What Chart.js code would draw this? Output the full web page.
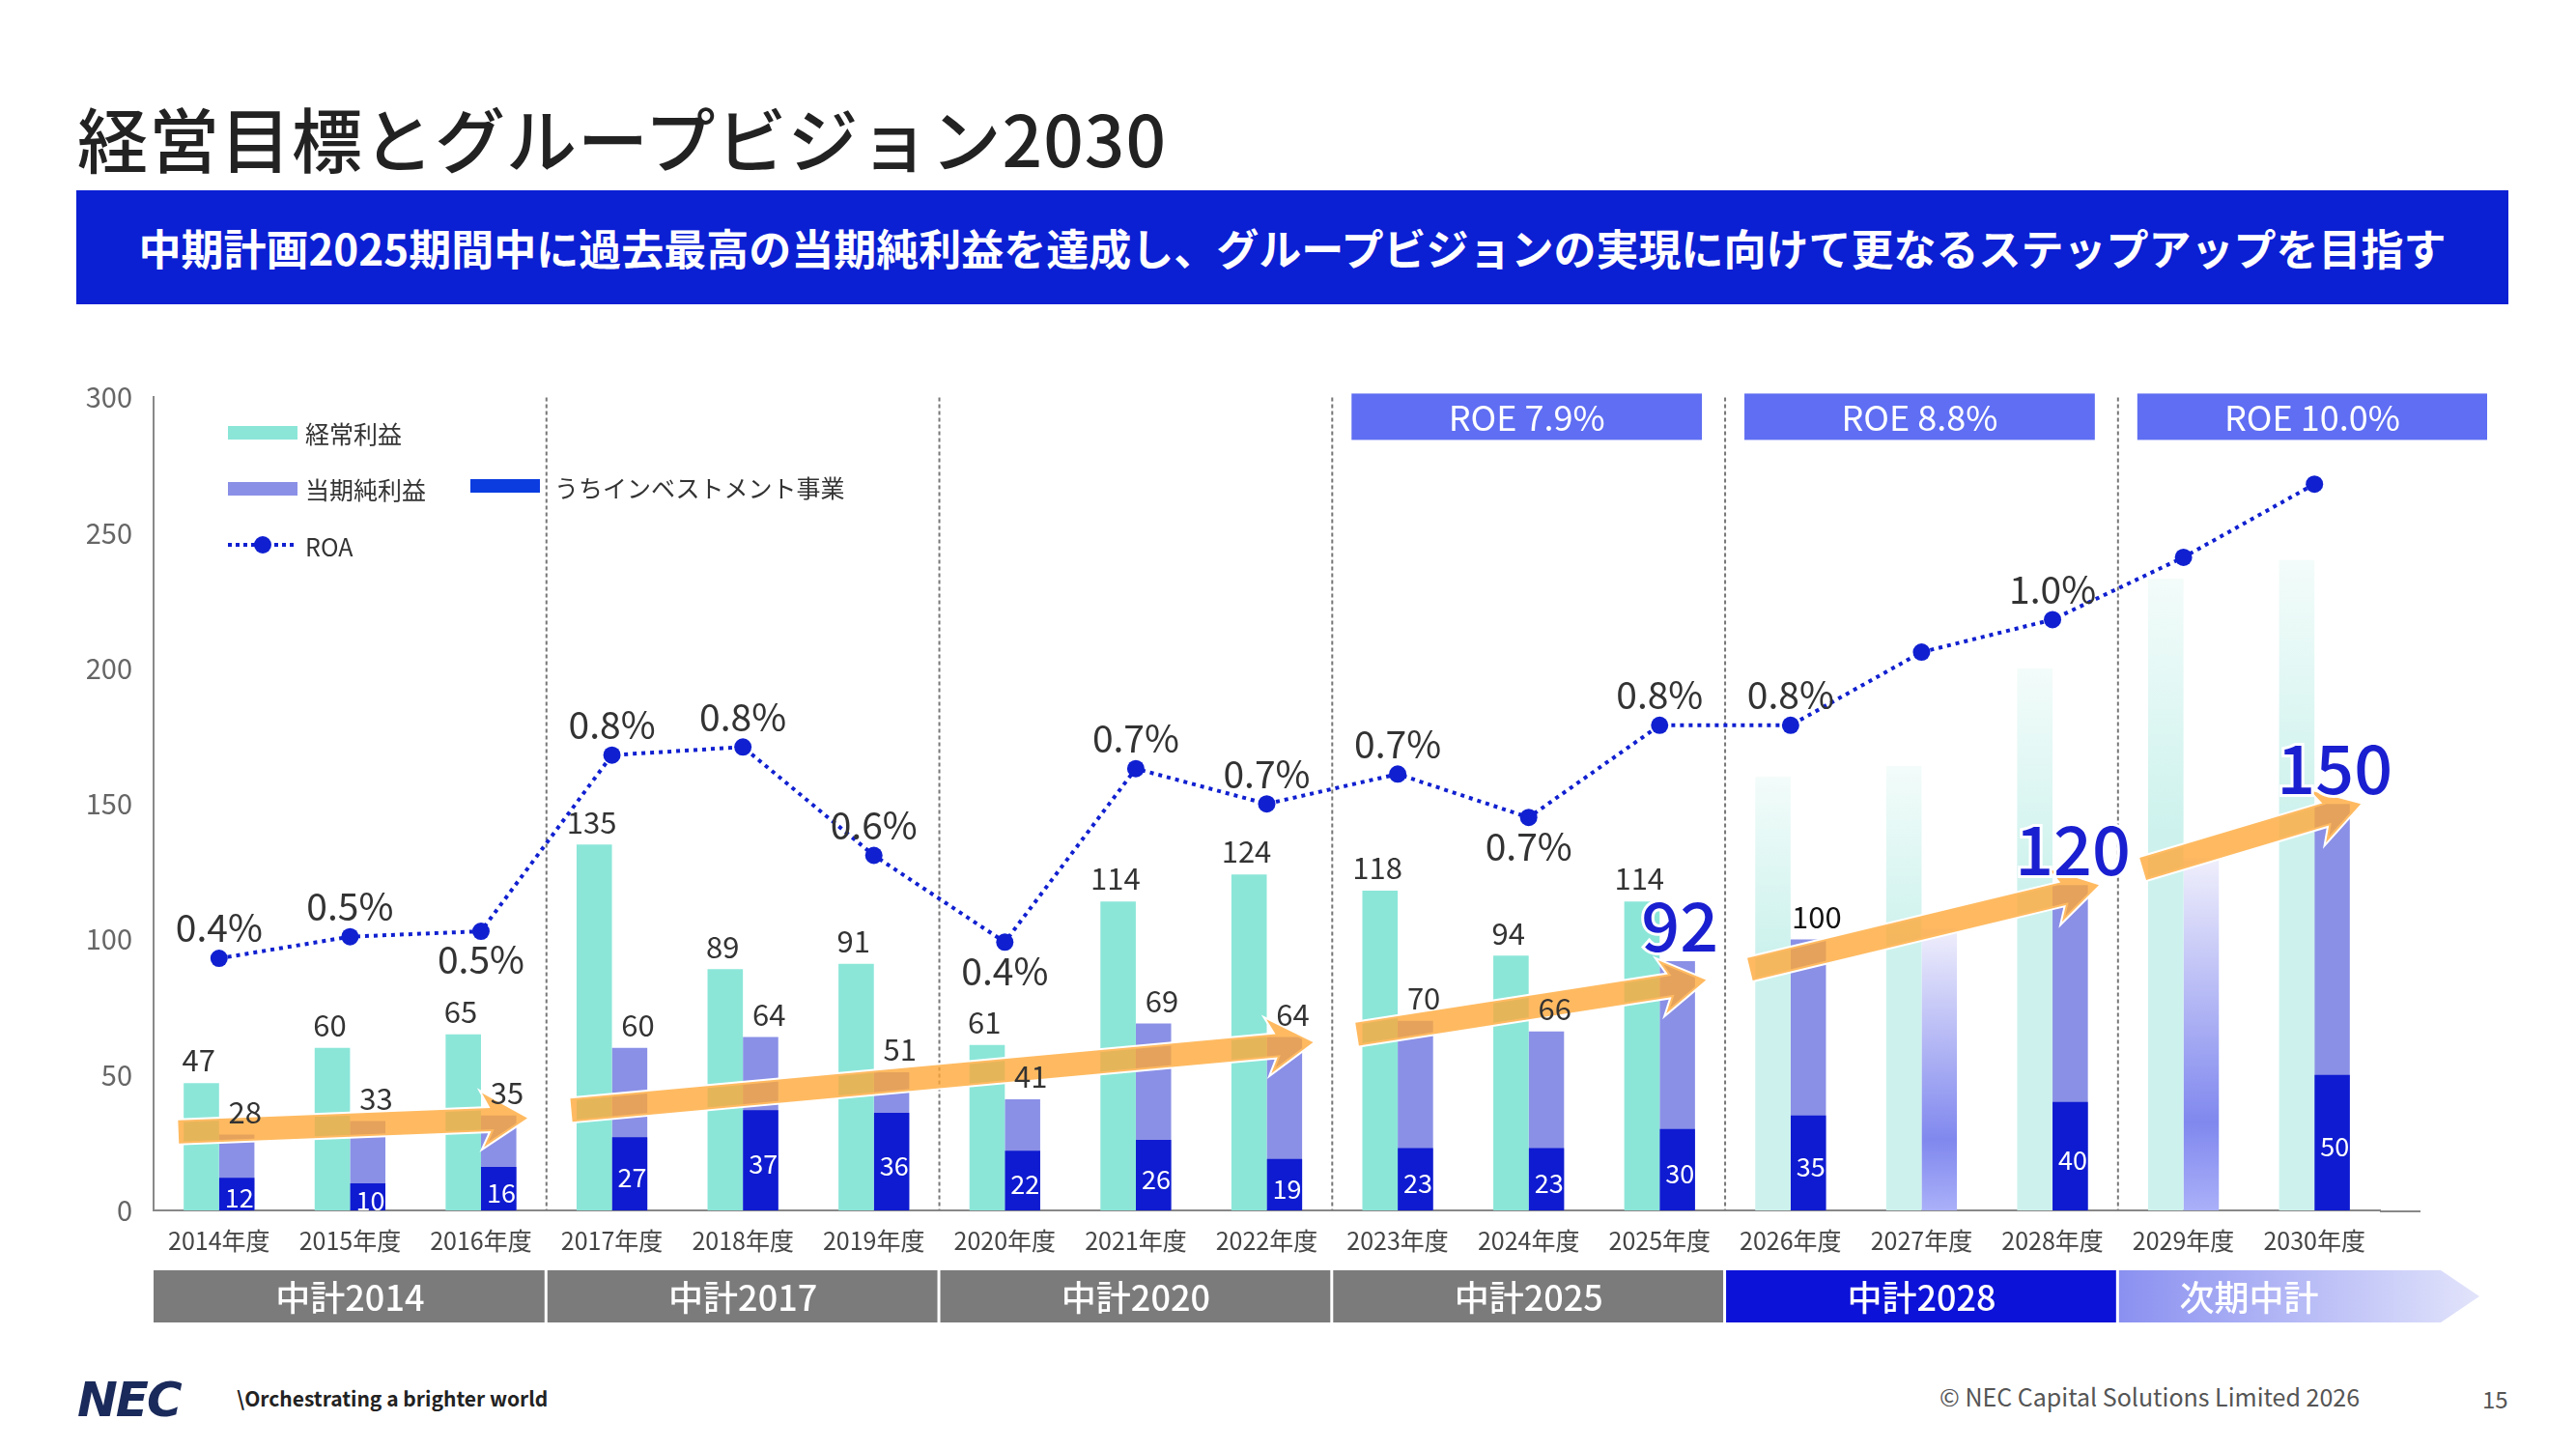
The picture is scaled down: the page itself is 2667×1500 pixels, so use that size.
<!DOCTYPE html>
<html><head><meta charset="utf-8">
<script src="https://cdn.jsdelivr.net/npm/chart.js@4"></script>
<style>
body{margin:0;width:2667px;height:1500px;background:#fff;position:relative;overflow:hidden;font-family:"Noto Sans CJK JP","Noto Sans",sans-serif;}
.abs{position:absolute;white-space:nowrap;}
#title{left:80px;top:88px;font-size:73px;color:#222;font-weight:500;letter-spacing:1px;}
#banner{left:79px;top:197px;width:2518px;height:118px;background:#0b1fd3;color:#fff;font-size:44px;font-weight:700;display:flex;align-items:center;justify-content:center;}
#wrap{left:60px;top:380px;width:2600px;height:1010px;}
.sw{position:absolute;height:14px;width:72px;}
.lt{font-size:25px;color:#333;}
</style></head><body>
<div id="title" class="abs">経営目標とグループビジョン2030</div>
<div id="banner" class="abs">中期計画2025期間中に過去最高の当期純利益を達成し、グループビジョンの実現に向けて更なるステップアップを目指す</div>
<div class="abs" id="wrap"><canvas id="c" width="2600" height="1010"></canvas></div>
<div class="sw abs" style="left:236px;top:441px;background:#8be6d8"></div>
<div class="abs lt" style="left:316px;top:430px">経常利益</div>
<div class="sw abs" style="left:236px;top:499px;background:#8a90e6"></div>
<div class="abs lt" style="left:316px;top:488px">当期純利益</div>
<div class="sw abs" style="left:487px;top:496px;background:#0a3ce0"></div>
<div class="abs lt" style="left:574px;top:486px">うちインベストメント事業</div>
<svg class="abs" style="left:234px;top:552px" width="76" height="24"><line x1="2" y1="12" x2="74" y2="12" stroke="#1020d0" stroke-width="4" stroke-dasharray="4 4"/><circle cx="38" cy="12" r="9" fill="#1020d0"/></svg>
<div class="abs lt" style="left:316px;top:547px">ROA</div>
<div class="abs" style="left:80px;top:1420px;font-size:50px;font-weight:900;color:#1a2a5a;font-family:'DejaVu Sans';letter-spacing:-2px;font-style:italic;">NEC</div>
<div class="abs" style="left:245px;top:1432px;font-size:21px;color:#222;font-weight:700;">\Orchestrating a brighter world</div>
<div class="abs" style="left:2008px;top:1427px;font-size:25px;color:#555;">© NEC Capital Solutions Limited 2026</div>
<div class="abs" style="left:2570px;top:1430px;font-size:24px;color:#555;">15</div>
<script>
const categories=['2014年度','2015年度','2016年度','2017年度','2018年度','2019年度','2020年度','2021年度','2022年度','2023年度','2024年度','2025年度','2026年度','2027年度','2028年度','2029年度','2030年度'];
const ordinaryProfit=[47,60,65,135,89,91,61,114,124,118,94,114,160,164,200,233,240];
const netProfit=[28,33,35,60,64,51,41,69,64,70,66,92,100,104,120,130,150];
const investProfit=[12,10,16,27,37,36,22,26,19,23,23,30,35,null,40,null,50];
const roaPlot=[93,101,103,168,171,131,99,163,150,161,145,179,179,206,218,241,268];
const roaLabels=['0.4%','0.5%','0.5%','0.8%','0.8%','0.6%','0.4%','0.7%','0.7%','0.7%','0.7%','0.8%','0.8%','','1.0%','',''];
const roaBelow=[false,false,true,false,false,false,true,false,false,false,true,false,false,false,false,false,false];
const ordinaryLabels=['47','60','65','135','89','91','61','114','124','118','94','114','','','','',''];
const netLabels=['28','33','35','60','64','51','41','69','64','70','66','92','100','','120','','150'];
const highlightNet=[11,14,16];
const planOrdinary=[12,13,14,15,16];
const fadedNet=[13,15];
const phases=['中計2014','中計2017','中計2020','中計2025','中計2028','次期中計'];
const phaseStarts=[0,3,6,9,12,15];
const roeLabels=['ROE 7.9%','ROE 8.8%','ROE 10.0%'];
const roeStarts=[9,12,15];
const arrows=[[0,2,29,34],[3,8,37,62],[9,11,65,85],[12,14,89,120],[15,16,126,150]];

const BW=42;
function greenColor(ctx){
  const i=ctx.dataIndex; if(!planOrdinary.includes(i)) return '#8be6d8';
  const c=ctx.chart, a=c.chartArea; if(!a) return '#d0f2ee';
  const yt=c.scales.y.getPixelForValue(ordinaryProfit[i]);
  const g=c.ctx.createLinearGradient(0,yt,0,a.bottom);
  g.addColorStop(0,'#f3fcfa');g.addColorStop(0.4,'#cdf2ed');g.addColorStop(1,'#cdf2ed');return g;
}
function netColor(ctx){
  const i=ctx.dataIndex; if(!fadedNet.includes(i)) return '#8a90e6';
  const c=ctx.chart, a=c.chartArea; if(!a) return '#b0b4f4';
  const yt=c.scales.y.getPixelForValue(netProfit[i]);
  const g=c.ctx.createLinearGradient(0,yt,0,a.bottom);
  g.addColorStop(0,'#f0effc');g.addColorStop(0.75,'#8088ee');g.addColorStop(1,'#aab0f8');return g;
}
const deco={id:'deco',
 beforeDatasetsDraw(c){
  const x=c.scales.x,a=c.chartArea,g=c.ctx;
  const step=x.getPixelForValue(1)-x.getPixelForValue(0);
  g.save();g.strokeStyle='#777';g.lineWidth=2;g.setLineDash([4,3]);
  for(let k=1;k<phaseStarts.length;k++){const dx=x.getPixelForValue(phaseStarts[k])-step/2;
   g.beginPath();g.moveTo(dx,a.top);g.lineTo(dx,a.bottom);g.stroke();}
  g.setLineDash([]);g.strokeStyle='#888';g.lineWidth=2;g.beginPath();g.moveTo(a.right,a.bottom+1);g.lineTo(a.right+42,a.bottom+1);g.stroke();
  g.restore();
 },
 afterDatasetsDraw(c){
  const x=c.scales.x,y=c.scales.y,a=c.chartArea,g=c.ctx;
  const step=x.getPixelForValue(1)-x.getPixelForValue(0);
  const bnd=i=>x.getPixelForValue(i)-step/2;
  for(const [i0,i1,v0,v1] of arrows){
   const x0=x.getPixelForValue(i0)-BW,x1=x.getPixelForValue(i1)+BW+6;
   const y0=y.getPixelForValue(v0),y1=y.getPixelForValue(v1);
   const ang=Math.atan2(y1-y0,x1-x0),L=Math.hypot(x1-x0,y1-y0);
   g.save();g.translate(x0,y0);g.rotate(ang);
   const w=12,hl=38,hw=28;
   g.beginPath();g.moveTo(0,-w);g.lineTo(L-hl,-w);g.lineTo(L-hl-8,-hw);g.lineTo(L,0);g.lineTo(L-hl-8,hw);g.lineTo(L-hl,w);g.lineTo(0,w);g.closePath();
   g.fillStyle='rgba(255,166,52,0.78)';g.strokeStyle='#fff';g.lineWidth=4;g.stroke();g.fill();g.restore();
  }
  g.save();g.textAlign='center';g.textBaseline='bottom';
  const f=(s,w)=>`${w||400} ${s}px "Noto Sans CJK JP","Noto Sans",sans-serif`;
  g.fillStyle='#333';g.font=f(31);
  ordinaryLabels.forEach((t,i)=>{if(t)g.fillText(t,x.getPixelForValue(i)-BW/2,y.getPixelForValue(ordinaryProfit[i])-8);});
  netLabels.forEach((t,i)=>{if(!t)return;
   if(highlightNet.includes(i)){g.fillStyle='#1a1fd0';g.font=f(70,500);g.strokeStyle='#fff';g.lineWidth=6;
     const px=x.getPixelForValue(i)+BW/2,py=y.getPixelForValue(netProfit[i])-2;g.strokeText(t,px,py);g.fillText(t,px,py);}
   else{g.fillStyle=i==12?'#111':'#333';g.font=f(31);g.fillText(t,x.getPixelForValue(i)+BW/2+6,y.getPixelForValue(netProfit[i])-8);}
  });
  g.fillStyle='#fff';g.font=f(27);g.textBaseline='middle';
  investProfit.forEach((v,i)=>{if(v==null)return;g.fillText(String(v),x.getPixelForValue(i)+BW/2,(y.getPixelForValue(v)+a.bottom)/2+4);});
  g.fillStyle='#333';g.font=f(39);
  roaLabels.forEach((t,i)=>{if(!t)return;const py=y.getPixelForValue(roaPlot[i]);
   if(roaBelow[i]){g.textBaseline='top';g.fillText(t,x.getPixelForValue(i),py+10);}else{g.textBaseline='bottom';g.fillText(t,x.getPixelForValue(i),py-12);}});
  g.textBaseline='middle';
  roeStarts.forEach((s,k)=>{const l=bnd(s)+20,r=k<2?bnd(roeStarts[k+1])-24:a.right+111;
   g.fillStyle='#5f6ef2';g.fillRect(l,a.top-4,r-l,48);g.fillStyle='#fff';g.font=f(36);g.fillText(roeLabels[k],(l+r)/2,a.top+21);});
  const pt=a.bottom+62,ph=54;
  phaseStarts.forEach((s,k)=>{const l=k==0?a.left:bnd(s),r=k<5?bnd(phaseStarts[k+1]):a.right+63;
   if(k<4){g.fillStyle='#7b7b7b';g.fillRect(l,pt,r-l,ph);}
   else if(k==4){g.fillStyle='#0d12d8';g.fillRect(l,pt,r-l,ph);}
   else{const gr=g.createLinearGradient(l,0,r+40,0);gr.addColorStop(0,'#8a90f0');gr.addColorStop(1,'#e2e4fb');g.fillStyle=gr;
     g.beginPath();g.moveTo(l,pt);g.lineTo(r,pt);g.lineTo(r+40,pt+ph/2);g.lineTo(r,pt+ph);g.lineTo(l,pt+ph);g.closePath();g.fill();}
   g.fillStyle='#fff';g.font=f(36,500);g.fillText(phases[k],(l+(k<5?r:a.right))/2,pt+ph/2+1);
   if(k>0){g.fillStyle='#fff';g.fillRect(l-2,pt,3,ph);}
  });
  g.restore();
 }};
new Chart(document.getElementById('c'),{
 data:{labels:categories,datasets:[
  {type:'line',data:roaPlot,borderColor:'#1020d0',borderWidth:4,borderDash:[4,5],pointRadius:9,pointBackgroundColor:'#1020d0',pointBorderWidth:0,order:0},
  {type:'bar',data:ordinaryProfit,backgroundColor:greenColor,order:3,stack:'a'},
  {type:'bar',data:investProfit,backgroundColor:'#0f1bd0',order:3,stack:'b'},
  {type:'bar',data:netProfit,backgroundColor:netColor,order:3,stack:'b'}
 ]},
 options:{responsive:false,animation:false,events:[],
  layout:{padding:{top:10,right:196,left:0,bottom:0}},
  plugins:{legend:{display:false},tooltip:{enabled:false}},
  datasets:{bar:{categoryPercentage:0.54,barPercentage:1}},
  scales:{
   x:{stacked:true,grid:{display:false},border:{color:'#888',width:2},ticks:{color:'#444',font:{size:25,family:'"Noto Sans CJK JP"'},padding:8,maxRotation:0},afterFit(s){s.height=137;}},
   y:{stacked:false,min:0,max:300,ticks:{stepSize:50,color:'#666',font:{size:29,family:'"Noto Sans CJK JP"'},padding:14},grid:{display:false},border:{color:'#888',width:2},afterFit(s){s.width=99;}}
  }},
 plugins:[deco]});
</script></body></html>
